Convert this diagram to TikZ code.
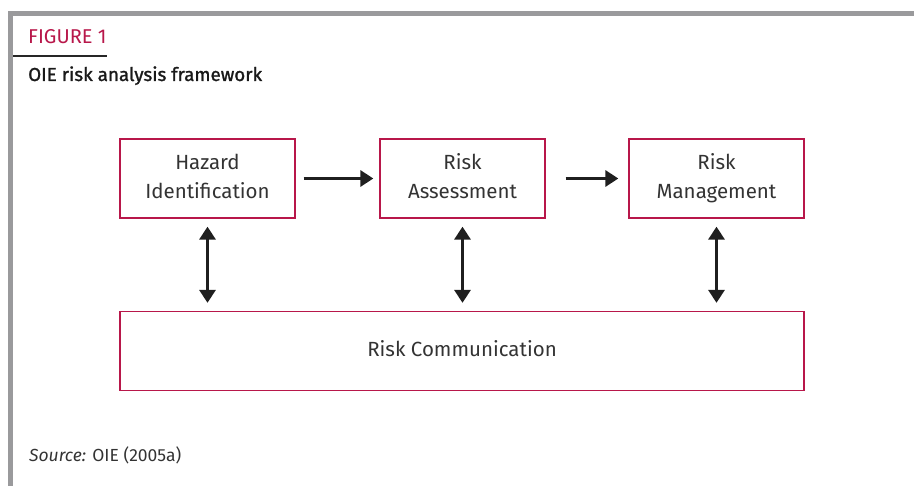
\documentclass[tikz,border=0pt]{standalone}
\usepackage{fontspec}
\setmainfont{Fira Sans}
\newfontfamily\headfont[FakeBold=1.3]{Fira Sans}
\usetikzlibrary{arrows.meta}
\definecolor{framegray}{HTML}{9A9A9C}
\definecolor{crimson}{HTML}{B8174A}
\definecolor{inkgray}{HTML}{333333}
\tikzset{
  stagebox/.style={draw=crimson, line width=1.3pt, minimum width=#1, minimum height=79pt,
    inner sep=0pt, text=inkgray, align=center, font=\fontsize{20.5}{29}\selectfont},
  flow/.style={line width=3.2pt, draw=black!88, -{Triangle[length=13pt,width=16pt]}},
  twoway/.style={line width=3.2pt, draw=black!88, {Triangle[length=13pt,width=16pt]}-{Triangle[length=13pt,width=16pt]}},
}
\begin{document}
\begin{tikzpicture}[x=1pt,y=-1pt]
\useasboundingbox (0,0) rectangle (914,486);
% frame
\fill[framegray] (8,11) rectangle (914,16);
\fill[framegray] (8,11) rectangle (13,486);
% heading
\node[anchor=base west, text=crimson, font=\fontsize{20}{24}\selectfont, inner sep=0pt] (fig) at (28,44) {FIGURE 1};
\draw[line width=1.4pt, black!85] (13,56) -- (107,56);
\node[anchor=base west, text=black!90, font=\headfont\fontsize{18.8}{22}\selectfont, inner sep=0pt] (title) at (28,81) {OIE risk analysis framework};
% stages
\node[stagebox=175pt] (haz) at (207.5,178.5) {Hazard\strut\\Identification\strut};
\node[stagebox=165pt] (ass) at (462.5,178.5) {Risk\strut\\Assessment\strut};
\node[stagebox=175pt] (man) at (716.5,178.5) {Risk\strut\\Management\strut};
\node[stagebox=684pt] (com) at (462,351) {Risk Communication\strut};
% connectors
\draw[flow] ([xshift=8pt]haz.east) -- ([xshift=-6pt]ass.west);
\draw[flow] ([xshift=20pt]ass.east) -- ([xshift=-10pt]man.west);
\draw[twoway] ([yshift=-8pt]haz.south) -- ([yshift=8pt]com.north -| haz.south);
\draw[twoway] ([yshift=-8pt]ass.south) -- ([yshift=8pt]com.north -| ass.south);
\draw[twoway] ([yshift=-8pt]man.south) -- ([yshift=8pt]com.north -| man.south);
% source line
\node[anchor=base west, text=inkgray, font=\fontsize{17.5}{20}\selectfont, inner sep=0pt] (src) at (29,462) {\textit{Source:} OIE (2005a)};
\end{tikzpicture}
\end{document}
